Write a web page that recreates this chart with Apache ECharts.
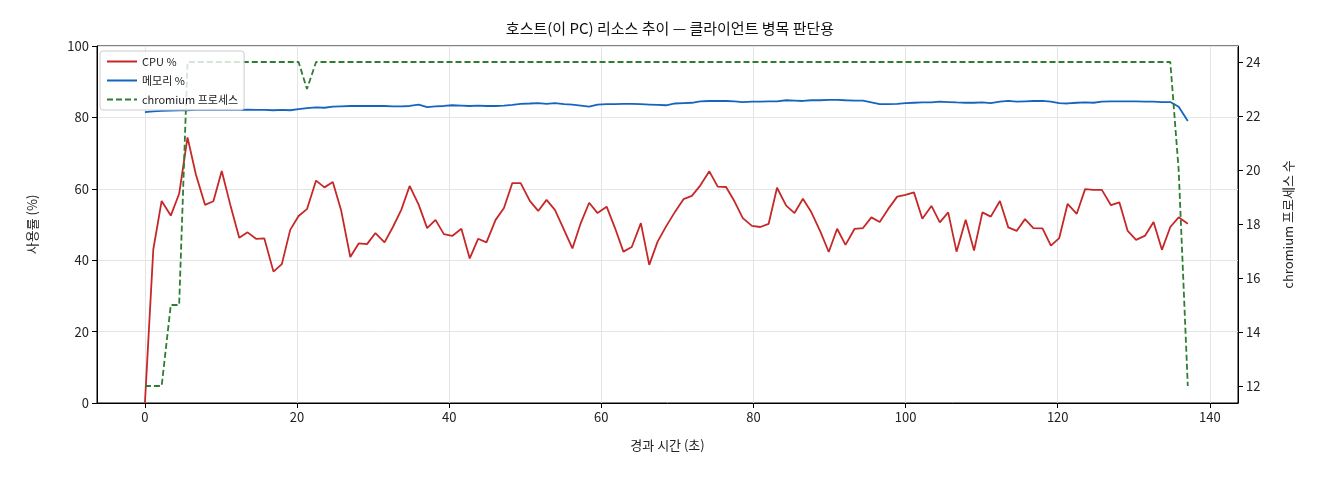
<!DOCTYPE html>
<html><head><meta charset="utf-8">
<script src="https://cdn.jsdelivr.net/npm/echarts@6/dist/echarts.min.js"></script>
<style>html,body{margin:0;padding:0;background:#fff}#c{width:1320px;height:480px}</style>
</head><body><div id="c"></div>
<script>
const times=[0,1.1,2.2,3.4,4.5,5.6,6.7,7.9,9.0,10.1,11.2,12.4,13.5,14.6,15.7,16.9,18.0,19.1,20.2,21.3,22.5,23.6,24.7,25.8,27.0,28.1,29.2,30.3,31.5,32.6,33.7,34.8,36.0,37.1,38.2,39.3,40.4,41.6,42.7,43.8,44.9,46.1,47.2,48.3,49.4,50.6,51.7,52.8,53.9,55.1,56.2,57.3,58.4,59.5,60.7,61.8,62.9,64.0,65.2,66.3,67.4,68.5,69.7,70.8,71.9,73.0,74.2,75.3,76.4,77.5,78.6,79.8,80.9,82.0,83.1,84.3,85.4,86.5,87.6,88.8,89.9,91.0,92.1,93.3,94.4,95.5,96.6,97.7,98.9,100.0,101.1,102.2,103.4,104.5,105.6,106.7,107.9,109.0,110.1,111.2,112.4,113.5,114.6,115.7,116.8,118.0,119.1,120.2,121.3,122.5,123.6,124.7,125.8,127.0,128.1,129.2,130.3,131.5,132.6,133.7,134.8,135.9,137.1];
const cpu=[0,43,56.6,52.5,58.6,74.4,64,55.5,56.5,65,55.7,46.3,47.8,46,46.1,36.8,38.9,48.5,52.4,54.3,62.3,60.4,61.9,53.9,40.9,44.7,44.5,47.6,45,49.3,54.1,60.8,55.5,49,51.3,47.3,46.8,48.8,40.5,46,45,51.3,
54.6,61.6,61.6,56.6,53.8,56.9,54.1,48.5,43.3,50.4,56.1,53.2,55,49,42.4,43.7,50.4,38.7,45.2,49.4,53.6,57.1,58,60.9,64.9,60.6,60.5,56.5,51.8,49.6,49.3,50.2,60.3,55.3,53.2,57.2,53.5,48,42.3,48.8,44.3,
48.8,49,52,50.7,54.3,57.8,58.3,59,51.6,55.2,50.6,53.4,42.4,51.3,42.7,53.4,52.2,56.6,49.2,48.2,51.5,49,48.9,44.1,46.2,55.8,53,59.9,59.7,59.7,55.4,56.2,48.2,45.7,46.9,50.7,42.9,49.3,52,50.2];
const mem=[81.5,81.7,81.8,81.9,82,82,82.1,82.1,82.2,82.1,82.2,82.1,82.2,82.1,82.1,82.0,82.1,82.0,82.3,82.6,82.8,82.7,83.0,83.1,83.2,83.2,83.2,83.2,83.2,83.1,83.1,83.2,83.6,82.9,83.1,83.2,83.4,83.3,83.2,83.3,83.2,83.2,
83.3,83.5,83.8,83.9,84.0,83.8,84.0,83.7,83.6,83.3,83.0,83.6,83.7,83.7,83.8,83.8,83.7,83.6,83.5,83.4,83.9,84.0,84.1,84.5,84.6,84.6,84.6,84.5,84.3,84.4,84.4,84.5,84.5,84.8,84.7,84.6,84.8,84.8,84.9,84.9,84.8,
84.7,84.7,84.2,83.7,83.7,83.8,84.0,84.1,84.2,84.2,84.4,84.3,84.2,84.1,84.1,84.2,84.0,84.4,84.6,84.4,84.5,84.6,84.6,84.4,84.0,83.9,84.1,84.2,84.1,84.4,84.5,84.5,84.5,84.5,84.4,84.4,84.3,84.3,83.0,79.0];
const procs=[12,12,12,15,15,24,24,24,24,24,24,24,24,24,24,24,24,24,24,23,24];
while(procs.length<121)procs.push(24);
procs.push(20,12);
const xTicks=[0,20,40,60,80,100,120,140];
const rTicks=[12,14,16,18,20,22,24];
const z=(a)=>times.slice(0,a.length).map((t,i)=>[t,a[i]]);
const F='"Noto Sans CJK KR","DejaVu Sans",sans-serif';
const lab={color:'#222',fontSize:13,fontFamily:F};
const ch=echarts.init(document.getElementById('c'));
ch.setOption({
 animation:false,
 title:{text:'호스트(이 PC) 리소스 추이 — 클라이언트 병목 판단용',left:665,textAlign:'center',top:16,textStyle:{fontSize:15,fontWeight:'normal',color:'#111',fontFamily:F}},
 grid:{left:97,right:82,top:46,bottom:77,show:true,borderColor:'#000',borderWidth:1},
 legend:{orient:'vertical',left:100,top:51,itemWidth:30,itemHeight:8,itemGap:8,padding:[5,6],borderColor:'#ccc',borderWidth:1,borderRadius:3,backgroundColor:'rgba(255,255,255,0.8)',itemStyle:{opacity:0},textStyle:{fontSize:11,fontFamily:F,color:'#222'},data:['CPU %','메모리 %','chromium 프로세스']},
 xAxis:{type:'value',min:-6.3,max:143.7,name:'경과 시간 (초)',nameLocation:'middle',nameGap:36,nameTextStyle:lab,
  axisLine:{lineStyle:{color:'#000'}},axisTick:{customValues:xTicks,length:5,lineStyle:{color:'#000'}},axisLabel:Object.assign({customValues:xTicks},lab),
  splitLine:{show:true,lineStyle:{color:'#e4e4e4'}}},
 yAxis:[{type:'value',min:0,max:100,interval:20,name:'사용률 (%)',nameLocation:'middle',nameGap:58,nameTextStyle:lab,
  axisLine:{show:true,onZero:false,lineStyle:{color:'#000'}},axisTick:{show:true,length:5,lineStyle:{color:'#000'}},axisLabel:lab,splitLine:{lineStyle:{color:'#e4e4e4'}}},
  {type:'value',min:11.37,max:24.593,position:'right',name:'chromium 프로세스 수',nameLocation:'middle',nameGap:44,nameRotate:90,nameTextStyle:lab,
  axisLine:{show:true,onZero:false,lineStyle:{color:'#000'}},axisTick:{show:true,customValues:rTicks,length:5,lineStyle:{color:'#000'}},axisLabel:Object.assign({customValues:rTicks},lab),splitLine:{show:false}}],
 series:[
  {name:'CPU %',type:'line',data:z(cpu),symbol:'none',lineStyle:{color:'#c62828',width:1.8},itemStyle:{color:'#c62828'}},
  {name:'메모리 %',type:'line',data:z(mem),symbol:'none',lineStyle:{color:'#1565c0',width:1.8},itemStyle:{color:'#1565c0'}},
  {name:'chromium 프로세스',type:'line',yAxisIndex:1,data:z(procs),symbol:'none',lineStyle:{color:'#2e7d32',width:1.8,type:[6,3]},itemStyle:{color:'#2e7d32'}}
 ]
});
</script></body></html>
